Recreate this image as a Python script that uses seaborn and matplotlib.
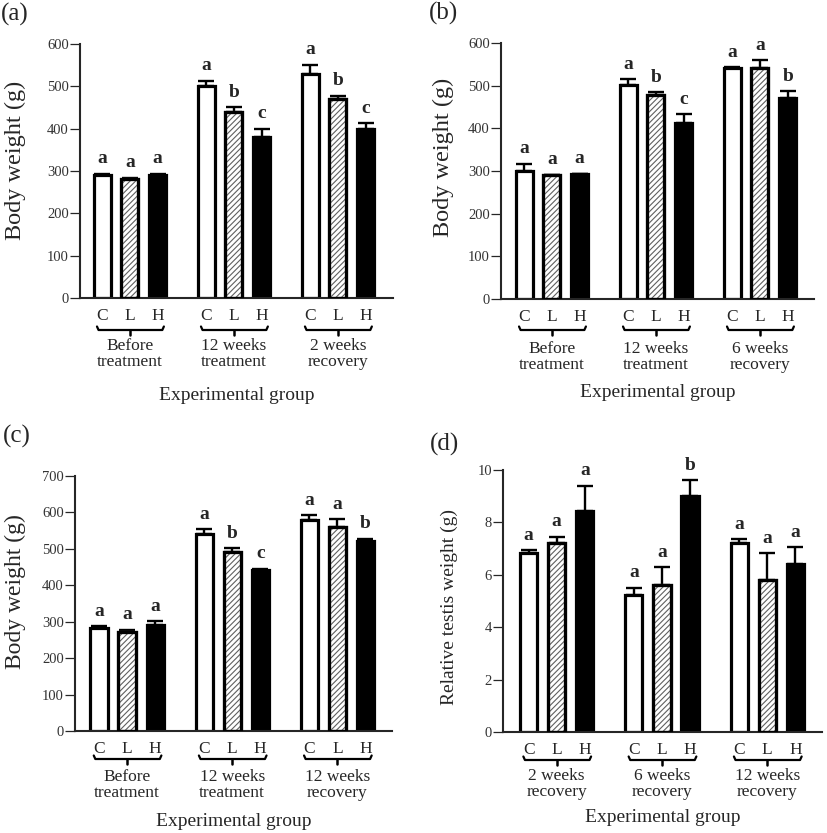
import numpy as np
import pandas as pd
import matplotlib
matplotlib.use("Agg")
import matplotlib.pyplot as plt
import seaborn as sns
from matplotlib.lines import Line2D
from matplotlib.patches import Rectangle

# ---------------- data ----------------
treatments = ["C", "L", "H"]

groups_a = ["Before\ntreatment", "12 weeks\ntreatment", "2 weeks\nrecovery"]
means_a = [290, 280, 290, 500, 440, 380, 530, 470, 400]
errs_a = [4, 4, 4, 13, 11, 20, 21, 8, 13]
letters_a = ["a", "a", "a", "a", "b", "c", "a", "b", "c"]

groups_b = ["Before\ntreatment", "12 weeks\ntreatment", "6 weeks\nrecovery"]
means_b = [301, 290, 292, 502, 477, 412, 542, 542, 472]
errs_b = [16, 1, 2, 13, 8, 21, 1, 18, 15]
letters_b = ["a", "a", "a", "a", "b", "c", "a", "a", "b"]

groups_c = ["Before\ntreatment", "12 weeks\ntreatment", "12 weeks\nrecovery"]
means_c = [282, 272, 292, 541, 491, 442, 580, 561, 521]
errs_c = [6, 6, 10, 13, 11, 3, 13, 20, 7]
letters_c = ["a", "a", "a", "a", "b", "c", "a", "a", "b"]

groups_d = ["2 weeks\nrecovery", "6 weeks\nrecovery", "12 weeks\nrecovery"]
means_d = [6.82, 7.22, 8.42, 5.22, 5.62, 9.02, 7.22, 5.82, 6.43]
errs_d = [0.12, 0.23, 0.98, 0.28, 0.67, 0.60, 0.13, 1.00, 0.63]
letters_d = ["a", "a", "a", "a", "a", "b", "a", "a", "a"]

# ---------------- style ----------------
sns.set_style("ticks")
plt.rcParams["font.family"] = ["Liberation Serif", "DejaVu Serif"]
plt.rcParams["hatch.linewidth"] = 0.8

FW, FH = 827, 833
fig = plt.figure(figsize=(FW / 100, FH / 100), dpi=100)

fills = {"C": "white", "L": "white", "H": "black"}
EDGE_LW = 2.3


def draw_panel(box, xlim, groups, means, errs, letters, ymax, ystep,
               ylabel, ylabel_xy, ylabel_size, tag, tag_xy,
               brk_px, grp_px, exp_px):
    l, r, t, b = box
    ax = fig.add_axes([l / FW, 1 - b / FH, (r - l) / FW, (b - t) / FH])
    hpx = b - t
    df = pd.DataFrame({
        "group": np.repeat(groups, 3),
        "treatment": treatments * 3,
        "value": means,
    })
    sns.barplot(data=df, x="group", y="value", hue="treatment",
                order=groups, hue_order=treatments, palette=fills,
                edgecolor="black", linewidth=EDGE_LW, width=0.8, gap=0.39,
                errorbar=None, legend=False, ax=ax, zorder=2)
    bars = sorted([p for p in ax.patches if isinstance(p, Rectangle)],
                  key=lambda p: p.get_x())
    xs = np.array([p.get_x() + p.get_width() / 2 for p in bars])
    tops = np.array([p.get_height() for p in bars])

    # hatched L bars: grey hatch + black outline on top
    for i, p in enumerate(bars):
        if treatments[i % 3] == "L":
            p.set_hatch("//////")
            p.set_edgecolor("#606060")
            ax.add_patch(Rectangle((p.get_x(), p.get_y()), p.get_width(),
                                   p.get_height(), fill=False,
                                   edgecolor="black", linewidth=EDGE_LW,
                                   zorder=3))

    errs = np.array(errs, dtype=float)
    ax.errorbar(xs, tops, yerr=[np.zeros_like(errs), errs], fmt="none",
                ecolor="black", elinewidth=1.7, capsize=5.5, capthick=1.7,
                zorder=1.5)
    for x, y, e, s in zip(xs, tops, errs, letters):
        ax.annotate(s, xy=(x, y + e), xytext=(0, 7.5),
                    textcoords="offset points", ha="center", va="baseline",
                    fontsize=14, fontweight="bold")

    ax.set_xlim(*xlim)
    ax.set_ylim(0, ymax)
    ax.set_yticks(np.arange(0, ymax + ystep / 2, ystep))
    ax.set_xticks(xs, treatments * 3)
    ax.tick_params(axis="x", length=0, pad=7, labelsize=12.5)
    ax.tick_params(axis="y", length=7, width=0.9, labelsize=10.5,
                   labelcolor="#333333", pad=1)
    ax.set_xlabel("")
    ax.set_ylabel("")
    sns.despine(ax=ax)
    for s in ("left", "bottom"):
        ax.spines[s].set_linewidth(1.5)

    trans = ax.get_xaxis_transform()
    yb = -brk_px / hpx
    up = 3.5 / hpx
    dn = 4.5 / hpx
    for g in range(3):
        x0 = xs[3 * g] - 0.05
        x1 = xs[3 * g + 2] + 0.06
        xm = xs[3 * g + 1]
        ax.add_line(Line2D([x0, x0 + 0.015, x1 - 0.015, x1],
                           [yb + up, yb, yb, yb + up], transform=trans,
                           color="black", lw=1.6, clip_on=False))
        ax.add_line(Line2D([xm, xm], [yb, yb - dn], transform=trans,
                           color="black", lw=1.8, clip_on=False))
        ax.text(xm, -grp_px / hpx, groups[g], transform=trans,
                ha="center", va="center", fontsize=12.5, linespacing=0.95)

    ax.text(0.5, -exp_px / hpx, "Experimental group", transform=ax.transAxes,
            ha="center", va="center", fontsize=14)
    fig.text(ylabel_xy[0] / FW, 1 - ylabel_xy[1] / FH, ylabel, rotation=90,
             ha="center", va="center", fontsize=ylabel_size)
    fig.text(tag_xy[0] / FW, 1 - tag_xy[1] / FH, tag, ha="left",
             va="center", fontsize=18)
    return ax


draw_panel((80, 393, 44, 298), (-0.48, 2.53), groups_a, means_a, errs_a,
           letters_a, 600, 100, "Body weight (g)", (15, 160), 17.5,
           "(a)", (1, 14), 32, 56, 97)
draw_panel((501, 814, 43, 299), (-0.49, 2.52), groups_b, means_b, errs_b,
           letters_b, 600, 100, "Body weight (g)", (443, 157), 17.5,
           "(b)", (429, 13), 31, 58, 94)
draw_panel((75, 392, 476, 731), (-0.495, 2.52), groups_c, means_c, errs_c,
           letters_c, 700, 100, "Body weight (g)", (15, 592), 17,
           "(c)", (3, 436), 28, 54, 91)
draw_panel((503, 822, 470, 732), (-0.51, 2.52), groups_d, means_d, errs_d,
           letters_d, 10, 2, "Relative testis weight (g)", (449, 607), 14,
           "(d)", (430, 444), 28, 52, 86)

fig.savefig("out.png", dpi=100)
